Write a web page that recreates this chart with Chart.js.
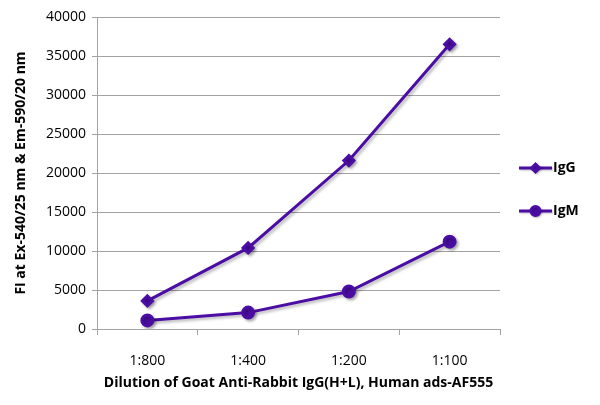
<!DOCTYPE html>
<html>
<head>
<meta charset="utf-8">
<script src="https://cdn.jsdelivr.net/npm/chart.js@4"></script>
<style>
html,body{margin:0;padding:0;background:#fff;}
#wrap{width:600px;height:405px;position:relative;}
</style>
</head>
<body>
<div id="wrap"><canvas id="c" width="600" height="405"></canvas></div>
<script>
const categories = ['1:800', '1:400', '1:200', '1:100'];
const igG = [3600, 10400, 21600, 36500];
const igM = [1100, 2100, 4800, 11200];
const seriesNames = ['IgG', 'IgM'];
const yTicks = [0, 5000, 10000, 15000, 20000, 25000, 30000, 35000, 40000];

const purple = '#4B0DA3';
const gridGray = '#A3A3A3';
const FONT = '"Open Sans", "DejaVu Sans", sans-serif';

const shadowPlugin = {
  id: 'shadow',
  beforeDatasetsDraw(chart) {
    const ctx = chart.ctx;
    ctx.save();
    ctx.shadowColor = 'rgba(0,0,0,0.28)';
    ctx.shadowBlur = 3;
    ctx.shadowOffsetX = 2;
    ctx.shadowOffsetY = 2;
  },
  afterDatasetsDraw(chart) {
    chart.ctx.restore();
  }
};

const legendMarkerRadius = [4, 4.5];

const legendPlugin = {
  id: 'customLegend',
  afterDraw(chart) {
    const ctx = chart.ctx;
    const x0 = 519, x1 = 552;
    const ys = [168, 211];
    chart.data.datasets.forEach((ds, i) => {
      const y = ys[i];
      ctx.save();
      ctx.shadowColor = 'rgba(0,0,0,0.25)';
      ctx.shadowBlur = 2;
      ctx.shadowOffsetX = 1;
      ctx.shadowOffsetY = 1;
      ctx.strokeStyle = ds.borderColor;
      ctx.lineWidth = ds.borderWidth;
      ctx.beginPath();
      ctx.moveTo(x0, y);
      ctx.lineTo(x1, y);
      ctx.stroke();
      ctx.fillStyle = ds.pointBackgroundColor;
      ctx.strokeStyle = ds.pointBorderColor;
      Chart.helpers.drawPoint(ctx, {
        pointStyle: ds.pointStyle,
        radius: legendMarkerRadius[i],
        borderWidth: 1,
        rotation: 0
      }, (x0 + x1) / 2, y);
      ctx.restore();
      ctx.save();
      ctx.fillStyle = '#000';
      ctx.font = 'bold 14px ' + FONT;
      ctx.textBaseline = 'middle';
      ctx.textAlign = 'left';
      ctx.fillText(ds.label, x1 + 1, y);
      ctx.restore();
    });
  }
};

new Chart(document.getElementById('c'), {
  type: 'line',
  data: {
    labels: categories,
    datasets: [
      {
        label: seriesNames[0],
        data: igG,
        borderColor: purple,
        backgroundColor: purple,
        pointBackgroundColor: purple,
        pointBorderColor: purple,
        borderWidth: 3,
        pointStyle: 'rectRot',
        pointRadius: 5,
        pointHoverRadius: 5,
        tension: 0
      },
      {
        label: seriesNames[1],
        data: igM,
        borderColor: purple,
        backgroundColor: purple,
        pointBackgroundColor: purple,
        pointBorderColor: purple,
        borderWidth: 3,
        pointStyle: 'circle',
        pointRadius: 5.5,
        pointHoverRadius: 5.5,
        tension: 0
      }
    ]
  },
  options: {
    responsive: false,
    animation: false,
    events: [],
    layout: { padding: { top: 17, right: 100, left: 0, bottom: 0 } },
    plugins: {
      legend: { display: false },
      tooltip: { enabled: false }
    },
    scales: {
      x: {
        offset: true,
        afterFit(s) { s.height = 76; },
        grid: {
          offset: true,
          drawOnChartArea: false,
          drawTicks: true,
          tickLength: 6,
          color: gridGray
        },
        border: { display: true, color: gridGray, width: 1 },
        ticks: {
          color: '#000',
          font: { family: FONT, size: 14 },
          padding: 18,
          maxRotation: 0
        },
        title: {
          display: true,
          text: 'Dilution of Goat Anti-Rabbit IgG(H+L), Human ads-AF555',
          color: '#000',
          font: { family: FONT, size: 14, weight: 'bold' },
          padding: { top: 0, bottom: 14 }
        }
      },
      y: {
        min: 0,
        max: 40000,
        afterFit(s) { s.width = 97; },
        afterBuildTicks(s) { s.ticks = yTicks.map(v => ({ value: v })); },
        grid: {
          color: gridGray,
          lineWidth: 1,
          drawTicks: true,
          tickLength: 5
        },
        border: { display: true, color: gridGray, width: 1 },
        ticks: {
          color: '#000',
          font: { family: FONT, size: 14 },
          padding: 6,
          callback: v => String(v)
        },
        title: {
          display: true,
          text: 'FI at Ex-540/25 nm & Em-590/20 nm',
          color: '#000',
          font: { family: FONT, size: 14, weight: 'bold' },
          padding: { top: 13, bottom: 0 }
        }
      }
    }
  },
  plugins: [shadowPlugin, legendPlugin]
});
</script>
</body>
</html>
